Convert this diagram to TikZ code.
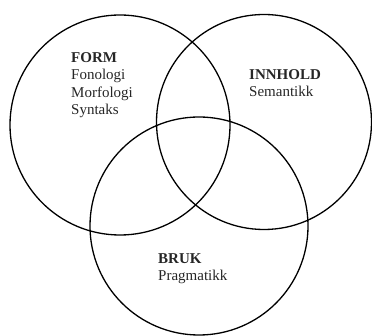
\documentclass[tikz,border=0pt]{standalone}
\usepackage{fontspec}
\setmainfont{Liberation Serif}
\usetikzlibrary{positioning}
\tikzset{
  area/.style={draw, circle, line width=1.3pt, inner sep=0pt},
  label/.style={anchor=north west, align=left, inner sep=0pt, text=black!85,
    font=\fontsize{15}{17.5}\selectfont}
}

\begin{document}
\begin{tikzpicture}[x=1pt, y=-1pt]
    \useasboundingbox (0,0) rectangle (372,336);
    \node[area, minimum size=220pt] (form) at (120,125) {};
    \node[area, minimum size=215pt] (innhold) at (264,122) {};
    \node[area, minimum size=218pt] (bruk) at (199,226) {};
    \node[label] (formtxt) at (71,52) {\textbf{FORM}\\Fonologi\\Morfologi\\Syntaks};
    \node[label] (innholdtxt) at (249,69) {\textbf{INNHOLD}\\Semantikk};
    \node[label] (bruktxt) at (158,253) {\textbf{BRUK}\\Pragmatikk};
  \end{tikzpicture}
\end{document}
